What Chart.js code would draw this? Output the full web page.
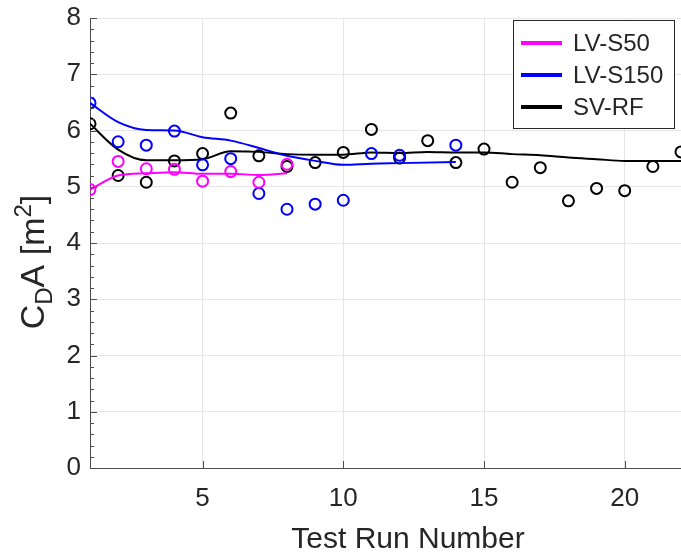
<!DOCTYPE html>
<html>
<head>
<meta charset="utf-8">
<script src="https://cdn.jsdelivr.net/npm/chart.js@4.4.1/dist/chart.umd.min.js"></script>
<style>
  html, body { margin: 0; padding: 0; background: #fff; overflow: hidden; }
  #wrap { width: 681px; height: 553px; position: relative; }
</style>
</head>
<body>
<div id="wrap"><canvas id="chCda"></canvas></div>
<script>
// test runs and measured CdA, plus the running average drawn as a line
var runS50 = [1, 2, 3, 4, 5, 6, 7, 8];
var cdaS50 = [4.95, 5.45, 5.32, 5.31, 5.10, 5.27, 5.08, 5.40];
var avgS50 = [4.95, 5.20, 5.24, 5.26, 5.23, 5.23, 5.21, 5.24];

var runS150 = [1, 2, 3, 4, 5, 6, 7, 8, 9, 10, 11, 12, 14];
var cdaS150 = [6.49, 5.80, 5.74, 5.99, 5.39, 5.50, 4.88, 4.60, 4.69, 4.76, 5.59, 5.56, 5.74];
var avgS150 = [6.49, 6.15, 6.01, 6.00, 5.88, 5.82, 5.69, 5.55, 5.46, 5.39, 5.41, 5.42, 5.44];

var runRF = [1, 2, 3, 4, 5, 6, 7, 8, 9, 10, 11, 12, 13, 14, 15, 16, 17, 18, 19, 20, 21, 22];
var cdaRF = [6.12, 5.20, 5.08, 5.46, 5.59, 6.31, 5.55, 5.36, 5.43, 5.61, 6.02, 5.51, 5.82, 5.43, 5.67, 5.08, 5.34, 4.75, 4.97, 4.93, 5.36, 5.62];
var avgRF = [6.12, 5.66, 5.47, 5.47, 5.49, 5.63, 5.62, 5.58, 5.57, 5.57, 5.61, 5.60, 5.62, 5.61, 5.61, 5.58, 5.56, 5.52, 5.49, 5.46, 5.46, 5.46];

var seriesNames = ['LV-S50', 'LV-S150', 'SV-RF'];
var seriesColors = ['#ff00ff', '#0000ff', '#000000'];

var xTicks = [5, 10, 15, 20];
var yTicks = [0, 1, 2, 3, 4, 5, 6, 7, 8];

var FONT = '"Liberation Sans", Arial, sans-serif';
var INK = '#262626';

function pts(xs, ys) {
    return xs.map(function (x, i) { return { x: x, y: ys[i] }; });
}

function lineSet(i, xs, ys) {
    return {
        label: seriesNames[i],
        data: pts(xs, ys),
        showLine: true,
        borderColor: seriesColors[i],
        borderWidth: 2,
        pointRadius: 0,
        cubicInterpolationMode: 'monotone',
        fill: false,
        isAvg: true
    };
}

function dotSet(i, xs, ys) {
    return {
        label: seriesNames[i] + ' runs',
        data: pts(xs, ys),
        showLine: false,
        borderColor: seriesColors[i],
        backgroundColor: 'rgba(0,0,0,0)',
        pointRadius: 5.5,
        pointBorderWidth: 2
    };
}

// inside ticks, minor ticks, axis titles and the legend box
var decor = {
    id: 'decor',
    afterDraw: function (chart) {
        var ctx = chart.ctx;
        var xs = chart.scales.x, ys = chart.scales.y;
        var a = chart.chartArea;
        ctx.save();
        ctx.strokeStyle = '#4d4d4d';
        ctx.lineWidth = 1;
        ctx.beginPath();
        yTicks.forEach(function (v) {
            var py = Math.round(ys.getPixelForValue(v)) + 0.5;
            ctx.moveTo(a.left, py); ctx.lineTo(a.left + 7, py);
        });
        for (var m = 0; m < 8; m++) {
            for (var k = 1; k < 5; k++) {
                var py2 = Math.round(ys.getPixelForValue(m + k * 0.2)) + 0.5;
                ctx.moveTo(a.left, py2); ctx.lineTo(a.left + 4, py2);
            }
        }
        xTicks.forEach(function (v) {
            var px = Math.round(xs.getPixelForValue(v)) + 0.5;
            ctx.moveTo(px, a.bottom); ctx.lineTo(px, a.bottom - 7);
        });
        ctx.stroke();

        // x title
        ctx.fillStyle = INK;
        ctx.textAlign = 'center';
        ctx.textBaseline = 'middle';
        ctx.font = '30px ' + FONT;
        ctx.fillText('Test Run Number', 408, 540);

        // y title: C_D A [m^2]
        var parts = [
            { t: 'C', s: 34, dy: 0 },
            { t: 'D', s: 24, dy: 8 },
            { t: 'A [m', s: 34, dy: 0 },
            { t: '2', s: 24, dy: -13 },
            { t: ']', s: 34, dy: 0 }
        ];
        var total = 0;
        parts.forEach(function (p) { ctx.font = p.s + 'px ' + FONT; p.w = ctx.measureText(p.t).width; total += p.w; });
        ctx.translate(44, 262);
        ctx.rotate(-Math.PI / 2);
        ctx.textAlign = 'left';
        ctx.textBaseline = 'alphabetic';
        var cx = -total / 2;
        parts.forEach(function (p) {
            ctx.font = p.s + 'px ' + FONT;
            ctx.fillText(p.t, cx, p.dy);
            cx += p.w;
        });
        ctx.restore();

        // legend
        ctx.save();
        ctx.fillStyle = '#ffffff';
        ctx.fillRect(513, 20, 161, 108);
        ctx.strokeStyle = INK;
        ctx.lineWidth = 1;
        ctx.strokeRect(513.5, 20.5, 161, 108);
        ctx.font = '24px ' + FONT;
        ctx.textAlign = 'left';
        ctx.textBaseline = 'middle';
        var rows = chart.data.datasets.filter(function (d) { return d.isAvg; });
        rows.forEach(function (d, i) {
            var ry = 43 + i * 32;
            ctx.strokeStyle = d.borderColor;
            ctx.lineWidth = 4;
            ctx.beginPath();
            ctx.moveTo(521, ry); ctx.lineTo(562, ry);
            ctx.stroke();
            ctx.fillStyle = INK;
            ctx.fillText(d.label, 573, ry + 1);
        });
        ctx.restore();
    }
};

var chCda = document.getElementById('chCda');
new Chart(chCda, {
    type: 'scatter',
    data: {
        datasets: [
            lineSet(0, runS50, avgS50), dotSet(0, runS50, cdaS50),
            lineSet(1, runS150, avgS150), dotSet(1, runS150, cdaS150),
            lineSet(2, runRF, avgRF), dotSet(2, runRF, cdaRF)
        ]
    },
    options: {
        responsive: true,
        maintainAspectRatio: false,
        animation: false,
        layout: { autoPadding: false, padding: { top: 18, right: 0, left: 0, bottom: 0 } },
        plugins: { legend: { display: false }, tooltip: { enabled: false } },
        scales: {
            x: {
                type: 'linear',
                min: 1,
                max: 22,
                afterBuildTicks: function (s) { s.ticks = xTicks.map(function (v) { return { value: v }; }); },
                afterFit: function (s) { s.height = 85; s.paddingLeft = 0; s.paddingRight = 0; },
                grid: { color: '#e6e6e6', drawTicks: false },
                border: { display: true, color: '#4d4d4d' },
                ticks: { font: { family: FONT, size: 26 }, color: INK, padding: 15, maxRotation: 0 }
            },
            y: {
                min: 0,
                max: 8,
                afterBuildTicks: function (s) { s.ticks = yTicks.map(function (v) { return { value: v }; }); },
                afterFit: function (s) { s.width = 90; s.paddingTop = 0; s.paddingBottom = 0; },
                grid: { color: '#e6e6e6', drawTicks: false },
                border: { display: true, color: '#4d4d4d' },
                ticks: { font: { family: FONT, size: 26 }, color: INK, padding: 9 }
            }
        }
    },
    plugins: [decor]
});
</script>
</body>
</html>
